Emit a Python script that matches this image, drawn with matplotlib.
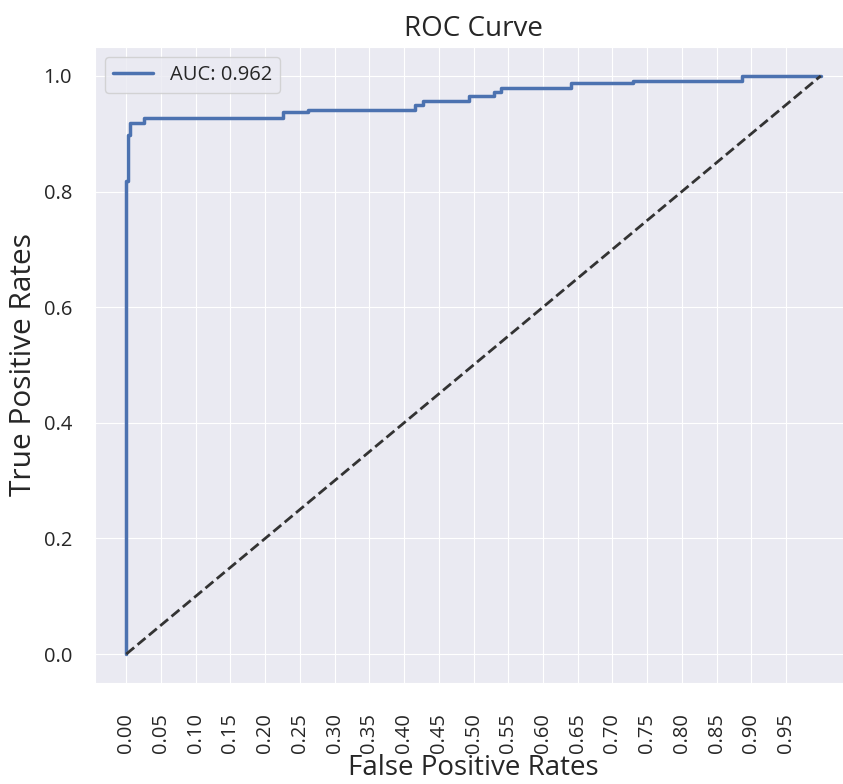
import numpy as np
import matplotlib
matplotlib.use("Agg")
import matplotlib.pyplot as plt
import seaborn as sns

# ROC corner points
fpr = [0.0, 0.0, 0.003, 0.003, 0.006, 0.006, 0.025, 0.025, 0.226, 0.226,
       0.262, 0.262, 0.416, 0.416, 0.428, 0.428, 0.493, 0.493, 0.529, 0.529,
       0.539, 0.539, 0.641, 0.641, 0.729, 0.729, 0.887, 0.887, 1.0]
tpr = [0.0, 0.818, 0.818, 0.898, 0.898, 0.919, 0.919, 0.927, 0.927, 0.937,
       0.937, 0.941, 0.941, 0.949, 0.949, 0.956, 0.956, 0.966, 0.966, 0.973,
       0.973, 0.979, 0.979, 0.987, 0.987, 0.992, 0.992, 1.0, 1.0]
auc = 0.962
chance = [0, 1]
xticks = np.arange(0, 1, 0.05)

sns.set_style("darkgrid", {"grid.linewidth": 1.4})
plt.rcParams['font.family'] = ['Open Sans', 'DejaVu Sans']

fig = plt.figure(figsize=(8.43, 7.84), dpi=100)
ax = fig.add_axes([95 / 843, 101 / 784, 757 / 843, 636 / 784])

ax.plot(fpr, tpr, color='#4c72b0', lw=2.5, label='AUC: {:.3f}'.format(auc))
ax.plot(chance, chance, color='#333333', lw=2.0, ls='--')

ax.set_xlim(-0.045, 1.045)
ax.set_ylim(-0.05, 1.05)
ax.set_xticks(xticks)
ax.set_xticklabels(['{:.2f}'.format(t) for t in xticks], rotation=90)
ax.tick_params(axis='x', labelsize=14.5, pad=18, colors='.15')
ax.tick_params(axis='y', labelsize=14.5, pad=13, colors='.15')

ax.set_title('ROC Curve', fontsize=20, color='.15', pad=8)
ax.set_xlabel('False Positive Rates', fontsize=20, color='.15', labelpad=1)
ax.set_ylabel('True Positive Rates', fontsize=21.5, color='.15', labelpad=4)
ax.legend(loc='upper left', fontsize=14.5)

fig.savefig('out.png', dpi=100)
